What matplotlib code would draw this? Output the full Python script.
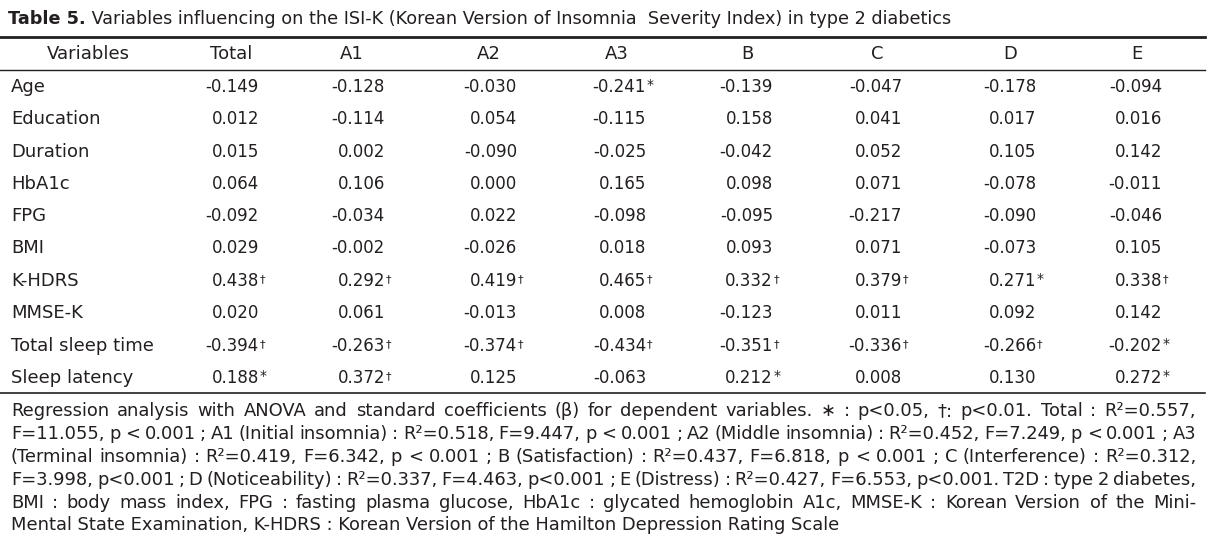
import matplotlib
matplotlib.use('Agg')
import matplotlib.pyplot as plt

plt.rcParams['font.family'] = ['DejaVu Sans']

title_bold = "Table 5."
title_rest = " Variables influencing on the ISI-K (Korean Version of Insomnia  Severity Index) in type 2 diabetics"

columns = ["Variables", "Total", "A1", "A2", "A3", "B", "C", "D", "E"]
variables = ["Age", "Education", "Duration", "HbA1c", "FPG", "BMI", "K-HDRS",
             "MMSE-K", "Total sleep time", "Sleep latency"]

total = ["-0.149", "0.012", "0.015", "0.064", "-0.092", "0.029", "0.438†", "0.020", "-0.394†", "0.188*"]
a1 = ["-0.128", "-0.114", "0.002", "0.106", "-0.034", "-0.002", "0.292†", "0.061", "-0.263†", "0.372†"]
a2 = ["-0.030", "0.054", "-0.090", "0.000", "0.022", "-0.026", "0.419†", "-0.013", "-0.374†", "0.125"]
a3 = ["-0.241*", "-0.115", "-0.025", "0.165", "-0.098", "0.018", "0.465†", "0.008", "-0.434†", "-0.063"]
b = ["-0.139", "0.158", "-0.042", "0.098", "-0.095", "0.093", "0.332†", "-0.123", "-0.351†", "0.212*"]
c = ["-0.047", "0.041", "0.052", "0.071", "-0.217", "0.071", "0.379†", "0.011", "-0.336†", "0.008"]
d = ["-0.178", "0.017", "0.105", "-0.078", "-0.090", "-0.073", "0.271*", "0.092", "-0.266†", "0.130"]
e = ["-0.094", "0.016", "0.142", "-0.011", "-0.046", "0.105", "0.338†", "0.142", "-0.202*", "0.272*"]
values = [total, a1, a2, a3, b, c, d, e]

footnote_lines = [
    "Regression analysis with ANOVA and standard coefficients (β) for dependent variables. ∗ : p<0.05, †: p<0.01. Total : R²=0.557,",
    "F=11.055, p < 0.001 ; A1 (Initial insomnia) : R²=0.518, F=9.447, p < 0.001 ; A2 (Middle insomnia) : R²=0.452, F=7.249, p < 0.001 ; A3",
    "(Terminal insomnia) : R²=0.419, F=6.342, p < 0.001 ; B (Satisfaction) : R²=0.437, F=6.818, p < 0.001 ; C (Interference) : R²=0.312,",
    "F=3.998, p<0.001 ; D (Noticeability) : R²=0.337, F=4.463, p<0.001 ; E (Distress) : R²=0.427, F=6.553, p<0.001. T2D : type 2 diabetes,",
    "BMI : body mass index, FPG : fasting plasma glucose, HbA1c : glycated hemoglobin A1c, MMSE-K : Korean Version of the Mini-",
    "Mental State Examination, K-HDRS : Korean Version of the Hamilton Depression Rating Scale",
]

W, H = 1208, 544
fig = plt.figure(figsize=(W / 100, H / 100), dpi=100)
ax = fig.add_axes([0, 0, 1, 1])
ax.set_xlim(0, W)
ax.set_ylim(H, 0)
ax.axis('off')
renderer = fig.canvas.get_renderer()
txt_color = '#231f20'

# title
t = ax.text(8, 19, title_bold, fontsize=12.7, fontweight='bold', va='center', color=txt_color)
tw = t.get_window_extent(renderer).width
ax.text(8 + tw, 19, title_rest, fontsize=12.7, va='center', color=txt_color)

# rules
ax.plot([0, 1205], [37, 37], color='#231f20', lw=2.0)
ax.plot([0, 1205], [70, 70], color='#231f20', lw=1.0)
ax.plot([0, 1205], [393, 393], color='#231f20', lw=1.2)

# header
col_centers = [88, 231, 352, 489, 617, 747, 877, 1010, 1137]
for name, xc in zip(columns, col_centers):
    ax.text(xc, 54, name, fontsize=13, ha='center', va='center', color=txt_color)

# body
row_y = [87, 119, 152, 184, 216, 248, 281, 313, 346, 378]
num_right = [259, 385, 517, 646, 773, 902, 1036, 1162]
for i, (var, y) in enumerate(zip(variables, row_y)):
    ax.text(11, y, var, fontsize=13, va='center', color=txt_color)
    for col, xr in zip(values, num_right):
        s = col[i]
        num = s.rstrip('*†')
        mark = s[len(num):]
        ax.text(xr, y, num, fontsize=12, ha='right', va='center', color=txt_color)
        if mark:
            ax.text(xr + 1, y - 2, mark, fontsize=8 if mark == '†' else 10,
                    ha='left', va='center', color=txt_color)

# footnote, justified
foot_y = [411, 434, 457, 480, 503, 525]
left, right = 11, 1196
fs_foot = 12.9
for k, (line, y) in enumerate(zip(footnote_lines, foot_y)):
    if k == len(footnote_lines) - 1:
        ax.text(left, y, line, fontsize=fs_foot, va='center', color=txt_color)
        continue
    words = line.split(' ')
    arts = [ax.text(0, y, w_, fontsize=fs_foot, va='center', color=txt_color) for w_ in words]
    widths = [a.get_window_extent(renderer).width for a in arts]
    gap = (right - left - sum(widths)) / (len(words) - 1)
    x = left
    for a, w_ in zip(arts, widths):
        a.set_x(x)
        x += w_ + gap

fig.savefig('out.png', dpi=100)
